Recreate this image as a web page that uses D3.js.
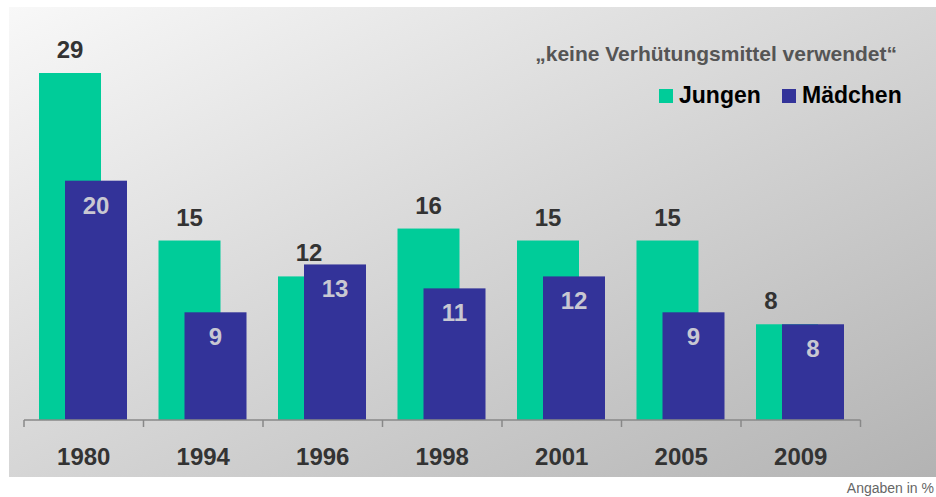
<!DOCTYPE html>
<html><head><meta charset="utf-8">
<script src="https://cdn.jsdelivr.net/npm/d3@7"></script>
<style>body{margin:0;background:#fff}svg{display:block;font-family:"Liberation Sans",Arial,sans-serif}</style>
</head><body><svg id="c" width="936" height="497"></svg>
<script>
const years = ["1980","1994","1996","1998","2001","2005","2009"];
const jungen = [29,15,12,16,15,15,8];
const maedchen = [20,9,13,11,12,9,8];
const seriesNames = ["Jungen","Mädchen"];
const titleText = "„keine Verhütungsmittel verwendet“";
const noteText = "Angaben in %";

const svg = d3.select("#c");
const defs = svg.append("defs");
const g = defs.append("linearGradient").attr("id","bg").attr("x1",0).attr("y1",0).attr("x2",1).attr("y2",1);
g.append("stop").attr("offset","0%").attr("stop-color","#f8f8f8");
g.append("stop").attr("offset","100%").attr("stop-color","#b3b3b3");
svg.append("rect").attr("x",9).attr("y",7).attr("width",927).attr("height",470).attr("fill","url(#bg)");

const colors = ["#00cc99","#333399"];
const x = d3.scaleBand().domain(years).range([24,860.5]).padding(0);
const y = d3.scaleLinear().domain([0,29]).range([420,73]);
const bw = 62;
const off = [15,41];

// bars
const data = [jungen, maedchen];
data.forEach((vals,si)=>{
  svg.append("g").selectAll("rect").data(years).join("rect")
    .attr("x",d=>x(d)+off[si]).attr("width",bw)
    .attr("y",(d,i)=>y(vals[i])).attr("height",(d,i)=>y(0)-y(vals[i]))
    .attr("fill",colors[si]);
});
// labels (last green label nudged left as in the original, where it would collide)
svg.append("g").selectAll("text").data(years).join("text")
  .attr("x",(d,i)=>x(d)+off[0]+bw/2 - (jungen[i]===maedchen[i] ? 16 : 0))
  .attr("y",(d,i)=>y(jungen[i])-15)
  .attr("text-anchor","middle").attr("font-size",24).attr("font-weight","bold").attr("fill","#333")
  .text((d,i)=>jungen[i]);
svg.append("g").selectAll("text").data(years).join("text")
  .attr("x",d=>x(d)+off[1]+bw/2).attr("y",(d,i)=>y(maedchen[i])+33)
  .attr("text-anchor","middle").attr("font-size",24).attr("font-weight","bold").attr("fill","#c8c8d2")
  .text((d,i)=>maedchen[i]);

// axis
const ax = svg.append("g").attr("transform","translate(0,420)");
ax.append("line").attr("x1",24).attr("x2",860.5).attr("stroke","#888").attr("stroke-width",1.5);
const tickPos = years.map(d=>x(d)).concat([x.range()[1]]);
ax.selectAll("line.t").data(tickPos).join("line").attr("class","t")
  .attr("x1",d=>d).attr("x2",d=>d).attr("y1",0).attr("y2",7).attr("stroke","#888").attr("stroke-width",1.5);
ax.selectAll("text").data(years).join("text")
  .attr("x",d=>x(d)+x.bandwidth()/2).attr("y",45)
  .attr("text-anchor","middle").attr("font-size",24).attr("font-weight","bold").attr("fill","#333").text(d=>d);

// title
svg.append("text").attr("x",897).attr("y",61).attr("text-anchor","end")
  .attr("font-size",21).attr("font-weight","bold").attr("fill","#555").text(titleText);

// legend
const legX = [659,782];
seriesNames.forEach((n,i)=>{
  svg.append("rect").attr("x",legX[i]).attr("y",89).attr("width",14).attr("height",14).attr("fill",colors[i]);
  svg.append("text").attr("x",legX[i]+20).attr("y",103).attr("font-size",23).attr("font-weight","bold").attr("fill","#000").text(n);
});

svg.append("text").attr("x",934).attr("y",493).attr("text-anchor","end").attr("font-size",14).attr("fill","#666").text(noteText);
</script></body></html>
